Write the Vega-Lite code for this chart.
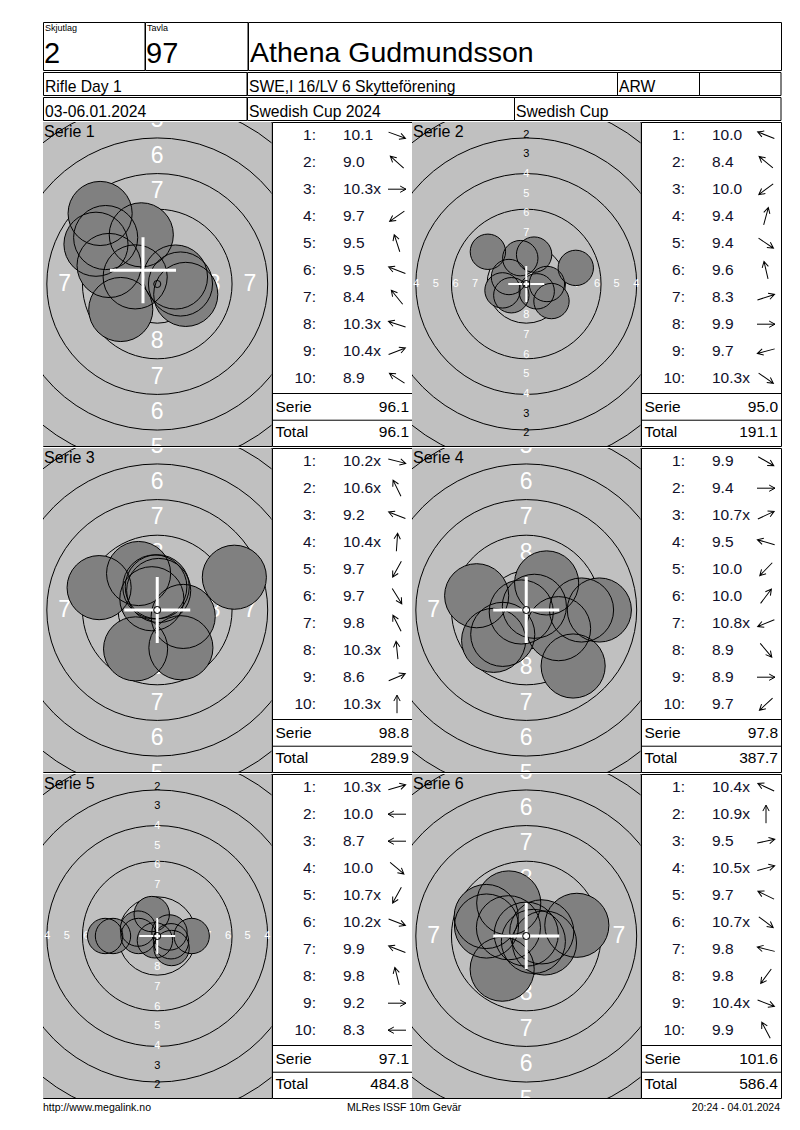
{
"$schema": "https://vega.github.io/schema/vega-lite/v6.json",
"background": "white",
"padding": {"left": 42, "top": 21, "right": 0, "bottom": 0},
"config": {"view": {"stroke": "black", "strokeWidth": 1}, "font": "Liberation Sans", "concat": {"spacing": 0}},
"datasets": {
"shots": [
{"s":1,"n":1,"score":10.1,"x10":false,"dir":-20,"x":2.00,"y":-0.73},
{"s":1,"n":2,"score":9.0,"x10":false,"dir":138,"x":-3.62,"y":3.26},
{"s":1,"n":3,"score":10.3,"x10":true,"dir":0,"x":1.63,"y":0},
{"s":1,"n":4,"score":9.7,"x10":false,"dir":215,"x":-2.56,"y":-1.79},
{"s":1,"n":5,"score":9.5,"x10":false,"dir":108,"x":-1.12,"y":3.45},
{"s":1,"n":6,"score":9.5,"x10":false,"dir":159,"x":-3.38,"y":1.30},
{"s":1,"n":7,"score":8.4,"x10":false,"dir":129,"x":-4.01,"y":4.95},
{"s":1,"n":8,"score":10.3,"x10":true,"dir":162,"x":-1.55,"y":0.50},
{"s":1,"n":9,"score":10.4,"x10":true,"dir":21,"x":1.28,"y":0.49},
{"s":1,"n":10,"score":8.9,"x10":false,"dir":147,"x":-4.30,"y":2.79},
{"s":2,"n":1,"score":10.0,"x10":false,"dir":158,"x":-2.20,"y":0.89},
{"s":2,"n":2,"score":8.4,"x10":false,"dir":140,"x":-4.88,"y":4.10},
{"s":2,"n":3,"score":10.0,"x10":false,"dir":217,"x":-1.90,"y":-1.43},
{"s":2,"n":4,"score":9.4,"x10":false,"dir":75,"x":1.00,"y":3.74},
{"s":2,"n":5,"score":9.4,"x10":false,"dir":-34,"x":3.21,"y":-2.17},
{"s":2,"n":6,"score":9.6,"x10":false,"dir":103,"x":-0.76,"y":3.29},
{"s":2,"n":7,"score":8.3,"x10":false,"dir":18,"x":6.30,"y":2.05},
{"s":2,"n":8,"score":9.9,"x10":false,"dir":0,"x":2.63,"y":0},
{"s":2,"n":9,"score":9.7,"x10":false,"dir":195,"x":-3.02,"y":-0.81},
{"s":2,"n":10,"score":10.3,"x10":true,"dir":-35,"x":1.33,"y":-0.93},
{"s":3,"n":1,"score":10.2,"x10":true,"dir":-14,"x":1.82,"y":-0.45},
{"s":3,"n":2,"score":10.6,"x10":true,"dir":116,"x":-0.38,"y":0.79},
{"s":3,"n":3,"score":9.2,"x10":false,"dir":159,"x":-4.08,"y":1.57},
{"s":3,"n":4,"score":10.4,"x10":true,"dir":86,"x":0.10,"y":1.37},
{"s":3,"n":5,"score":9.7,"x10":false,"dir":241,"x":-1.52,"y":-2.73},
{"s":3,"n":6,"score":9.7,"x10":false,"dir":-58,"x":1.66,"y":-2.65},
{"s":3,"n":7,"score":9.8,"x10":false,"dir":117,"x":-1.31,"y":2.56},
{"s":3,"n":8,"score":10.3,"x10":true,"dir":96,"x":-0.17,"y":1.62},
{"s":3,"n":9,"score":8.6,"x10":false,"dir":23,"x":5.41,"y":2.30},
{"s":3,"n":10,"score":10.3,"x10":true,"dir":90,"x":0,"y":1.63},
{"s":4,"n":1,"score":9.9,"x10":false,"dir":-30,"x":2.27,"y":-1.31},
{"s":4,"n":2,"score":9.4,"x10":false,"dir":0,"x":3.88,"y":0},
{"s":4,"n":3,"score":10.7,"x10":true,"dir":25,"x":0.57,"y":0.26},
{"s":4,"n":4,"score":9.5,"x10":false,"dir":164,"x":-3.48,"y":1.00},
{"s":4,"n":5,"score":10.0,"x10":false,"dir":226,"x":-1.65,"y":-1.71},
{"s":4,"n":6,"score":10.0,"x10":false,"dir":53,"x":1.43,"y":1.90},
{"s":4,"n":7,"score":10.8,"x10":true,"dir":202,"x":-0.35,"y":-0.14},
{"s":4,"n":8,"score":8.9,"x10":false,"dir":-50,"x":3.29,"y":-3.93},
{"s":4,"n":9,"score":8.9,"x10":false,"dir":0,"x":5.13,"y":0},
{"s":4,"n":10,"score":9.7,"x10":false,"dir":223,"x":-2.29,"y":-2.13},
{"s":5,"n":1,"score":10.3,"x10":true,"dir":16,"x":1.56,"y":0.45},
{"s":5,"n":2,"score":10.0,"x10":false,"dir":180,"x":-2.38,"y":0},
{"s":5,"n":3,"score":8.7,"x10":false,"dir":180,"x":-5.63,"y":0},
{"s":5,"n":4,"score":10.0,"x10":false,"dir":-40,"x":1.82,"y":-1.53},
{"s":5,"n":5,"score":10.7,"x10":true,"dir":241,"x":-0.30,"y":-0.55},
{"s":5,"n":6,"score":10.2,"x10":true,"dir":-21,"x":1.75,"y":-0.67},
{"s":5,"n":7,"score":9.9,"x10":false,"dir":159,"x":-2.45,"y":0.94},
{"s":5,"n":8,"score":9.8,"x10":false,"dir":104,"x":-0.70,"y":2.79},
{"s":5,"n":9,"score":9.2,"x10":false,"dir":0,"x":4.38,"y":0},
{"s":5,"n":10,"score":8.3,"x10":false,"dir":180,"x":-6.63,"y":0},
{"s":6,"n":1,"score":10.4,"x10":true,"dir":155,"x":-1.25,"y":0.58},
{"s":6,"n":2,"score":10.9,"x10":true,"dir":90,"x":0,"y":0.13},
{"s":6,"n":3,"score":9.5,"x10":false,"dir":12,"x":3.55,"y":0.75},
{"s":6,"n":4,"score":10.5,"x10":true,"dir":15,"x":1.09,"y":0.29},
{"s":6,"n":5,"score":9.7,"x10":false,"dir":154,"x":-2.81,"y":1.37},
{"s":6,"n":6,"score":10.7,"x10":true,"dir":-37,"x":0.50,"y":-0.38},
{"s":6,"n":7,"score":9.8,"x10":false,"dir":166,"x":-2.79,"y":0.70},
{"s":6,"n":8,"score":9.8,"x10":false,"dir":234,"x":-1.69,"y":-2.33},
{"s":6,"n":9,"score":10.4,"x10":true,"dir":-21,"x":1.28,"y":-0.49},
{"s":6,"n":10,"score":9.9,"x10":false,"dir":118,"x":-1.23,"y":2.32}
],
"rings": [
{"ring":1,"r":22.75,"x":0,"y":0},{"ring":2,"r":20.25,"x":0,"y":0},{"ring":3,"r":17.75,"x":0,"y":0},{"ring":4,"r":15.25,"x":0,"y":0},{"ring":5,"r":12.75,"x":0,"y":0},
{"ring":6,"r":10.25,"x":0,"y":0},{"ring":7,"r":7.75,"x":0,"y":0},{"ring":8,"r":5.25,"x":0,"y":0},{"ring":9,"r":2.75,"x":0,"y":0},{"ring":10,"r":0.25,"x":0,"y":0}
],
"labels": [
{"ring":1,"x":0,"y":21.5},{"ring":1,"x":0,"y":-21.5},{"ring":1,"x":-21.5,"y":0},{"ring":1,"x":21.5,"y":0},
{"ring":2,"x":0,"y":19.0},{"ring":2,"x":0,"y":-19.0},{"ring":2,"x":-19.0,"y":0},{"ring":2,"x":19.0,"y":0},
{"ring":3,"x":0,"y":16.5},{"ring":3,"x":0,"y":-16.5},{"ring":3,"x":-16.5,"y":0},{"ring":3,"x":16.5,"y":0},
{"ring":4,"x":0,"y":14.0},{"ring":4,"x":0,"y":-14.0},{"ring":4,"x":-14.0,"y":0},{"ring":4,"x":14.0,"y":0},
{"ring":5,"x":0,"y":11.5},{"ring":5,"x":0,"y":-11.5},{"ring":5,"x":-11.5,"y":0},{"ring":5,"x":11.5,"y":0},
{"ring":6,"x":0,"y":9.0},{"ring":6,"x":0,"y":-9.0},{"ring":6,"x":-9.0,"y":0},{"ring":6,"x":9.0,"y":0},
{"ring":7,"x":0,"y":6.5},{"ring":7,"x":0,"y":-6.5},{"ring":7,"x":-6.5,"y":0},{"ring":7,"x":6.5,"y":0},
{"ring":8,"x":0,"y":4.0},{"ring":8,"x":0,"y":-4.0},{"ring":8,"x":-4.0,"y":0},{"ring":8,"x":4.0,"y":0}
],
"cross": [
{"s":1,"x":-1.0,"y":0.97},{"s":2,"x":0,"y":0},{"s":3,"x":0,"y":0},{"s":4,"x":0,"y":0},{"s":5,"x":0,"y":0},{"s":6,"x":0,"y":0}
],
"series": [
{"s":1,"serie":96.1,"total":96.1},{"s":2,"serie":95.0,"total":191.1},{"s":3,"serie":98.8,"total":289.9},
{"s":4,"serie":97.8,"total":387.7},{"s":5,"serie":97.1,"total":484.8},{"s":6,"serie":101.6,"total":586.4}
]
},
"spacing": 0,
"vconcat": [
 {"hconcat": [
  {"width": 101.5, "height": 48, "data": {"values": [{"label": "Skjutlag", "value": "2"}]},
   "layer": [
    {"mark": {"type": "text", "align": "left", "baseline": "alphabetic", "fontSize": 9, "dx": 2},
     "encoding": {"x": {"datum": 0, "type": "quantitative", "scale": {"domain": [0, 1]}, "axis": null}, "y": {"datum": 0.8125, "type": "quantitative", "scale": {"domain": [0, 1]}, "axis": null}, "text": {"field": "label"}}},
    {"mark": {"type": "text", "align": "left", "baseline": "alphabetic", "fontSize": 29, "dx": 1},
     "encoding": {"x": {"datum": 0, "type": "quantitative"}, "y": {"datum": 0.14, "type": "quantitative"}, "text": {"field": "value"}}}
   ]},
  {"width": 102.5, "height": 48, "data": {"values": [{"label": "Tavla", "value": "97"}]},
   "layer": [
    {"mark": {"type": "text", "align": "left", "baseline": "alphabetic", "fontSize": 9, "dx": 2},
     "encoding": {"x": {"datum": 0, "type": "quantitative", "scale": {"domain": [0, 1]}, "axis": null}, "y": {"datum": 0.8125, "type": "quantitative", "scale": {"domain": [0, 1]}, "axis": null}, "text": {"field": "label"}}},
    {"mark": {"type": "text", "align": "left", "baseline": "alphabetic", "fontSize": 29, "dx": 1},
     "encoding": {"x": {"datum": 0, "type": "quantitative"}, "y": {"datum": 0.14, "type": "quantitative"}, "text": {"field": "value"}}}
   ]},
  {"width": 533, "height": 48, "data": {"values": [{"name": "Athena Gudmundsson"}]},
   "mark": {"type": "text", "align": "left", "baseline": "alphabetic", "fontSize": 28.5, "dx": 2},
   "encoding": {"x": {"datum": 0, "type": "quantitative", "scale": {"domain": [0, 1]}, "axis": null},
     "y": {"datum": 0.173, "type": "quantitative", "scale": {"domain": [0, 1]}, "axis": null}, "text": {"field": "name"}}}
 ], "spacing": 0, "bounds": "flush"},
 {"hconcat": [
  {"width": 203.5, "height": 23, "data": {"values": [{"t": "Rifle Day 1"}]},
   "mark": {"type": "text", "align": "left", "baseline": "alphabetic", "fontSize": 15.7, "dx": 2},
   "encoding": {"x": {"datum": 0, "type": "quantitative", "scale": {"domain": [0, 1]}, "axis": null},
     "y": {"datum": 0.13, "type": "quantitative", "scale": {"domain": [0, 1]}, "axis": null}, "text": {"field": "t"}}},
  {"width": 370, "height": 23, "data": {"values": [{"t": "SWE,I 16/LV 6 Skytteförening"}]},
   "mark": {"type": "text", "align": "left", "baseline": "alphabetic", "fontSize": 15.7, "dx": 2},
   "encoding": {"x": {"datum": 0, "type": "quantitative", "scale": {"domain": [0, 1]}, "axis": null},
     "y": {"datum": 0.13, "type": "quantitative", "scale": {"domain": [0, 1]}, "axis": null}, "text": {"field": "t"}}},
  {"width": 82, "height": 23, "data": {"values": [{"t": "ARW"}]},
   "mark": {"type": "text", "align": "left", "baseline": "alphabetic", "fontSize": 15.7, "dx": 2},
   "encoding": {"x": {"datum": 0, "type": "quantitative", "scale": {"domain": [0, 1]}, "axis": null},
     "y": {"datum": 0.13, "type": "quantitative", "scale": {"domain": [0, 1]}, "axis": null}, "text": {"field": "t"}}},
  {"width": 81.5, "height": 23, "data": {"values": [{"t": ""}]},
   "mark": {"type": "text", "align": "left", "baseline": "alphabetic", "fontSize": 15.7, "dx": 2},
   "encoding": {"x": {"datum": 0, "type": "quantitative", "scale": {"domain": [0, 1]}, "axis": null},
     "y": {"datum": 0.13, "type": "quantitative", "scale": {"domain": [0, 1]}, "axis": null}, "text": {"field": "t"}}}
 ], "spacing": 0, "bounds": "flush"},
 {"hconcat": [
  {"width": 203.5, "height": 23, "data": {"values": [{"t": "03-06.01.2024"}]},
   "mark": {"type": "text", "align": "left", "baseline": "alphabetic", "fontSize": 15.7, "dx": 2},
   "encoding": {"x": {"datum": 0, "type": "quantitative", "scale": {"domain": [0, 1]}, "axis": null},
     "y": {"datum": 0.12, "type": "quantitative", "scale": {"domain": [0, 1]}, "axis": null}, "text": {"field": "t"}}},
  {"width": 267, "height": 23, "data": {"values": [{"t": "Swedish Cup 2024"}]},
   "mark": {"type": "text", "align": "left", "baseline": "alphabetic", "fontSize": 15.7, "dx": 2},
   "encoding": {"x": {"datum": 0, "type": "quantitative", "scale": {"domain": [0, 1]}, "axis": null},
     "y": {"datum": 0.12, "type": "quantitative", "scale": {"domain": [0, 1]}, "axis": null}, "text": {"field": "t"}}},
  {"width": 266.5, "height": 23, "data": {"values": [{"t": "Swedish Cup"}]},
   "mark": {"type": "text", "align": "left", "baseline": "alphabetic", "fontSize": 15.7, "dx": 2},
   "encoding": {"x": {"datum": 0, "type": "quantitative", "scale": {"domain": [0, 1]}, "axis": null},
     "y": {"datum": 0.12, "type": "quantitative", "scale": {"domain": [0, 1]}, "axis": null}, "text": {"field": "t"}}}
 ], "spacing": 0, "bounds": "flush"},

 {"hconcat": [
  {"width": 228.5, "height": 324,
   "layer": [
    {"data": {"name": "rings"}, "transform": [{"filter": "datum.ring == 4"}], "mark": {"type": "point", "shape": "circle", "filled": true, "color": "#c0c0c0", "opacity": 1, "clip": true},
     "encoding": {"x": {"field": "x", "type": "quantitative", "scale": {"domain": [-8.018, 8.018], "nice": false, "zero": false}, "axis": null}, "y": {"field": "y", "type": "quantitative", "scale": {"domain": [-11.368, 11.368], "nice": false, "zero": false}, "axis": null},
       "size": {"field": "r", "type": "quantitative", "scale": {"type": "pow", "exponent": 2, "domain": [0, 25], "range": [0, 507656]}, "legend": null}}},
    {"data": {"name": "rings"}, "transform": [{"filter": "datum.ring != 4 && datum.ring != 10"}], "mark": {"type": "point", "shape": "circle", "filled": false, "color": "black", "strokeWidth": 1, "opacity": 1, "clip": true},
     "encoding": {"x": {"field": "x", "type": "quantitative"}, "y": {"field": "y", "type": "quantitative"}, "size": {"field": "r", "type": "quantitative", "legend": null}}},
    {"data": {"name": "labels"}, "mark": {"type": "text", "fontSize": 23, "baseline": "middle", "align": "center", "clip": true},
     "encoding": {"x": {"field": "x", "type": "quantitative"}, "y": {"field": "y", "type": "quantitative"}, "text": {"field": "ring", "type": "nominal"}, "color": {"condition": {"test": "datum.ring >= 4", "value": "white"}, "value": "black"}}},
    {"data": {"name": "shots"}, "transform": [{"filter": "datum.s == 1"}], "mark": {"type": "point", "shape": "circle", "filled": true, "color": "#808080", "opacity": 1, "size": 4112, "clip": true},
     "encoding": {"x": {"field": "x", "type": "quantitative"}, "y": {"field": "y", "type": "quantitative"}}},
    {"data": {"name": "shots"}, "transform": [{"filter": "datum.s == 1"}], "mark": {"type": "point", "shape": "circle", "filled": false, "color": "black", "strokeWidth": 1, "opacity": 1, "size": 4112, "clip": true},
     "encoding": {"x": {"field": "x", "type": "quantitative"}, "y": {"field": "y", "type": "quantitative"}}},
    {"data": {"name": "cross"}, "transform": [{"filter": "datum.s == 1"}], "mark": {"type": "point", "shape": "M-1,0L1,0M0,-1L0,1", "filled": false, "color": "white", "strokeWidth": 3, "opacity": 1, "size": 4356, "clip": true},
     "encoding": {"x": {"field": "x", "type": "quantitative"}, "y": {"field": "y", "type": "quantitative"}}},
    {"data": {"name": "rings"}, "transform": [{"filter": "datum.ring == 10"}], "mark": {"type": "point", "shape": "circle", "filled": false, "color": "black", "strokeWidth": 1, "opacity": 1, "clip": true},
     "encoding": {"x": {"field": "x", "type": "quantitative"}, "y": {"field": "y", "type": "quantitative"}, "size": {"field": "r", "type": "quantitative", "legend": null}}},
    {"data": {"name": "series"}, "transform": [{"filter": "datum.s == 1"}], "mark": {"type": "text", "align": "left", "baseline": "alphabetic", "fontSize": 16, "color": "black", "dx": 1, "dy": 15, "text": {"expr": "'Serie ' + datum.s"}},
     "encoding": {"x": {"datum": -8.018, "type": "quantitative"}, "y": {"datum": 11.368, "type": "quantitative"}}}
   ]},
  {"width": 140, "height": 324,
   "resolve": {"scale": {"x": "independent"}},
   "layer": [
    {"data": {"name": "shots"}, "transform": [{"filter": "datum.s == 1"}],
     "mark": {"type": "text", "align": "right", "baseline": "middle", "fontSize": 15.5, "color": "#10102a", "text": {"expr": "datum.n + ':'"}},
     "encoding": {"x": {"datum": "num", "type": "nominal", "scale": {"type": "point", "domain": ["num", "score", "x", "arrow"], "range": [44, 125], "padding": 0}, "axis": null},
       "y": {"field": "n", "type": "quantitative", "scale": {"domain": [0.511, 12.511], "reverse": true, "nice": false, "zero": false}, "axis": null}}},
    {"data": {"name": "shots"}, "transform": [{"filter": "datum.s == 1"}],
     "mark": {"type": "text", "align": "left", "baseline": "middle", "fontSize": 15.5, "color": "#10102a", "text": {"expr": "format(datum.score, '.1f') + (datum.x10 ? 'x' : '')"}},
     "encoding": {"x": {"datum": "score", "type": "nominal", "scale": {"type": "point", "domain": ["num", "score", "x", "arrow"], "range": [44, 125], "padding": 0}, "axis": null},
       "y": {"field": "n", "type": "quantitative"}}},
    {"data": {"name": "shots"}, "transform": [{"filter": "datum.s == 1"}],
     "mark": {"type": "point", "shape": "M-1,0L1,0M0.35,-0.35L1,0L0.35,0.35", "filled": false, "color": "black", "strokeWidth": 1, "opacity": 1, "size": 324},
     "encoding": {"x": {"datum": "arrow", "type": "nominal", "scale": {"type": "point", "domain": ["num", "score", "x", "arrow"], "range": [44, 125], "padding": 0}, "axis": null},
       "y": {"field": "n", "type": "quantitative"},
       "angle": {"field": "dir", "type": "quantitative", "scale": {"domain": [-360, 360], "range": [360, -360]}, "legend": null}}},
    {"data": {"name": "series"}, "transform": [{"filter": "datum.s == 1"}], "mark": {"type": "rule", "color": "black", "strokeWidth": 1},
     "encoding": {"y": {"datum": 10.567, "type": "quantitative"}}},
    {"data": {"name": "series"}, "transform": [{"filter": "datum.s == 1"}], "mark": {"type": "rule", "color": "black", "strokeWidth": 1},
     "encoding": {"y": {"datum": 11.556, "type": "quantitative"}}},
    {"data": {"name": "series"}, "transform": [{"filter": "datum.s == 1"}], "mark": {"type": "text", "align": "left", "baseline": "middle", "fontSize": 15.5, "text": "Serie"},
     "encoding": {"x": {"datum": "label", "type": "nominal", "scale": {"type": "point", "domain": ["label", "value"], "range": [3.5, 137], "padding": 0}, "axis": null}, "y": {"datum": 11.05, "type": "quantitative"}}},
    {"data": {"name": "series"}, "transform": [{"filter": "datum.s == 1"}], "mark": {"type": "text", "align": "right", "baseline": "middle", "fontSize": 15.5},
     "encoding": {"x": {"datum": "value", "type": "nominal", "scale": {"type": "point", "domain": ["label", "value"], "range": [3.5, 137], "padding": 0}, "axis": null}, "y": {"datum": 11.05, "type": "quantitative"}, "text": {"field": "serie", "type": "quantitative", "format": ".1f"}}},
    {"data": {"name": "series"}, "transform": [{"filter": "datum.s == 1"}], "mark": {"type": "text", "align": "left", "baseline": "middle", "fontSize": 15.5, "text": "Total"},
     "encoding": {"x": {"datum": "label", "type": "nominal", "scale": {"type": "point", "domain": ["label", "value"], "range": [3.5, 137], "padding": 0}, "axis": null}, "y": {"datum": 12.0, "type": "quantitative"}}},
    {"data": {"name": "series"}, "transform": [{"filter": "datum.s == 1"}], "mark": {"type": "text", "align": "right", "baseline": "middle", "fontSize": 15.5},
     "encoding": {"x": {"datum": "value", "type": "nominal", "scale": {"type": "point", "domain": ["label", "value"], "range": [3.5, 137], "padding": 0}, "axis": null}, "y": {"datum": 12.0, "type": "quantitative"}, "text": {"field": "total", "type": "quantitative", "format": ".1f"}}}
   ]},
  {"width": 228.5, "height": 324,
   "layer": [
    {"data": {"name": "rings"}, "transform": [{"filter": "datum.ring == 4"}], "mark": {"type": "point", "shape": "circle", "filled": true, "color": "#c0c0c0", "opacity": 1, "clip": true},
     "encoding": {"x": {"field": "x", "type": "quantitative", "scale": {"domain": [-14.535, 14.535], "nice": false, "zero": false}, "axis": null}, "y": {"field": "y", "type": "quantitative", "scale": {"domain": [-20.611, 20.611], "nice": false, "zero": false}, "axis": null},
       "size": {"field": "r", "type": "quantitative", "scale": {"type": "pow", "exponent": 2, "domain": [0, 25], "range": [0, 154449]}, "legend": null}}},
    {"data": {"name": "rings"}, "transform": [{"filter": "datum.ring != 4 && datum.ring != 10"}], "mark": {"type": "point", "shape": "circle", "filled": false, "color": "black", "strokeWidth": 1, "opacity": 1, "clip": true},
     "encoding": {"x": {"field": "x", "type": "quantitative"}, "y": {"field": "y", "type": "quantitative"}, "size": {"field": "r", "type": "quantitative", "legend": null}}},
    {"data": {"name": "labels"}, "mark": {"type": "text", "fontSize": 11, "baseline": "middle", "align": "center", "clip": true},
     "encoding": {"x": {"field": "x", "type": "quantitative"}, "y": {"field": "y", "type": "quantitative"}, "text": {"field": "ring", "type": "nominal"}, "color": {"condition": {"test": "datum.ring >= 4", "value": "white"}, "value": "black"}}},
    {"data": {"name": "shots"}, "transform": [{"filter": "datum.s == 2"}], "mark": {"type": "point", "shape": "circle", "filled": true, "color": "#808080", "opacity": 1, "size": 1251, "clip": true},
     "encoding": {"x": {"field": "x", "type": "quantitative"}, "y": {"field": "y", "type": "quantitative"}}},
    {"data": {"name": "shots"}, "transform": [{"filter": "datum.s == 2"}], "mark": {"type": "point", "shape": "circle", "filled": false, "color": "black", "strokeWidth": 1, "opacity": 1, "size": 1251, "clip": true},
     "encoding": {"x": {"field": "x", "type": "quantitative"}, "y": {"field": "y", "type": "quantitative"}}},
    {"data": {"name": "cross"}, "transform": [{"filter": "datum.s == 2"}], "mark": {"type": "point", "shape": "M-1,0L1,0M0,-1L0,1", "filled": false, "color": "white", "strokeWidth": 2, "opacity": 1, "size": 1296, "clip": true},
     "encoding": {"x": {"field": "x", "type": "quantitative"}, "y": {"field": "y", "type": "quantitative"}}},
    {"data": {"name": "rings"}, "transform": [{"filter": "datum.ring == 10"}], "mark": {"type": "point", "shape": "circle", "filled": false, "color": "black", "strokeWidth": 1, "opacity": 1, "clip": true},
     "encoding": {"x": {"field": "x", "type": "quantitative"}, "y": {"field": "y", "type": "quantitative"}, "size": {"field": "r", "type": "quantitative", "legend": null}}},
    {"data": {"name": "series"}, "transform": [{"filter": "datum.s == 2"}], "mark": {"type": "text", "align": "left", "baseline": "alphabetic", "fontSize": 16, "color": "black", "dx": 1, "dy": 15, "text": {"expr": "'Serie ' + datum.s"}},
     "encoding": {"x": {"datum": -14.535, "type": "quantitative"}, "y": {"datum": 20.611, "type": "quantitative"}}}
   ]},
  {"width": 140, "height": 324,
   "resolve": {"scale": {"x": "independent"}},
   "layer": [
    {"data": {"name": "shots"}, "transform": [{"filter": "datum.s == 2"}],
     "mark": {"type": "text", "align": "right", "baseline": "middle", "fontSize": 15.5, "color": "#10102a", "text": {"expr": "datum.n + ':'"}},
     "encoding": {"x": {"datum": "num", "type": "nominal", "scale": {"type": "point", "domain": ["num", "score", "x", "arrow"], "range": [44, 125], "padding": 0}, "axis": null},
       "y": {"field": "n", "type": "quantitative", "scale": {"domain": [0.511, 12.511], "reverse": true, "nice": false, "zero": false}, "axis": null}}},
    {"data": {"name": "shots"}, "transform": [{"filter": "datum.s == 2"}],
     "mark": {"type": "text", "align": "left", "baseline": "middle", "fontSize": 15.5, "color": "#10102a", "text": {"expr": "format(datum.score, '.1f') + (datum.x10 ? 'x' : '')"}},
     "encoding": {"x": {"datum": "score", "type": "nominal", "scale": {"type": "point", "domain": ["num", "score", "x", "arrow"], "range": [44, 125], "padding": 0}, "axis": null},
       "y": {"field": "n", "type": "quantitative"}}},
    {"data": {"name": "shots"}, "transform": [{"filter": "datum.s == 2"}],
     "mark": {"type": "point", "shape": "M-1,0L1,0M0.35,-0.35L1,0L0.35,0.35", "filled": false, "color": "black", "strokeWidth": 1, "opacity": 1, "size": 324},
     "encoding": {"x": {"datum": "arrow", "type": "nominal", "scale": {"type": "point", "domain": ["num", "score", "x", "arrow"], "range": [44, 125], "padding": 0}, "axis": null},
       "y": {"field": "n", "type": "quantitative"},
       "angle": {"field": "dir", "type": "quantitative", "scale": {"domain": [-360, 360], "range": [360, -360]}, "legend": null}}},
    {"data": {"name": "series"}, "transform": [{"filter": "datum.s == 2"}], "mark": {"type": "rule", "color": "black", "strokeWidth": 1},
     "encoding": {"y": {"datum": 10.567, "type": "quantitative"}}},
    {"data": {"name": "series"}, "transform": [{"filter": "datum.s == 2"}], "mark": {"type": "rule", "color": "black", "strokeWidth": 1},
     "encoding": {"y": {"datum": 11.556, "type": "quantitative"}}},
    {"data": {"name": "series"}, "transform": [{"filter": "datum.s == 2"}], "mark": {"type": "text", "align": "left", "baseline": "middle", "fontSize": 15.5, "text": "Serie"},
     "encoding": {"x": {"datum": "label", "type": "nominal", "scale": {"type": "point", "domain": ["label", "value"], "range": [3.5, 137], "padding": 0}, "axis": null}, "y": {"datum": 11.05, "type": "quantitative"}}},
    {"data": {"name": "series"}, "transform": [{"filter": "datum.s == 2"}], "mark": {"type": "text", "align": "right", "baseline": "middle", "fontSize": 15.5},
     "encoding": {"x": {"datum": "value", "type": "nominal", "scale": {"type": "point", "domain": ["label", "value"], "range": [3.5, 137], "padding": 0}, "axis": null}, "y": {"datum": 11.05, "type": "quantitative"}, "text": {"field": "serie", "type": "quantitative", "format": ".1f"}}},
    {"data": {"name": "series"}, "transform": [{"filter": "datum.s == 2"}], "mark": {"type": "text", "align": "left", "baseline": "middle", "fontSize": 15.5, "text": "Total"},
     "encoding": {"x": {"datum": "label", "type": "nominal", "scale": {"type": "point", "domain": ["label", "value"], "range": [3.5, 137], "padding": 0}, "axis": null}, "y": {"datum": 12.0, "type": "quantitative"}}},
    {"data": {"name": "series"}, "transform": [{"filter": "datum.s == 2"}], "mark": {"type": "text", "align": "right", "baseline": "middle", "fontSize": 15.5},
     "encoding": {"x": {"datum": "value", "type": "nominal", "scale": {"type": "point", "domain": ["label", "value"], "range": [3.5, 137], "padding": 0}, "axis": null}, "y": {"datum": 12.0, "type": "quantitative"}, "text": {"field": "total", "type": "quantitative", "format": ".1f"}}}
   ]}
 ], "spacing": 0, "bounds": "flush"},

 {"hconcat": [
  {"width": 228.5, "height": 324,
   "layer": [
    {"data": {"name": "rings"}, "transform": [{"filter": "datum.ring == 4"}], "mark": {"type": "point", "shape": "circle", "filled": true, "color": "#c0c0c0", "opacity": 1, "clip": true},
     "encoding": {"x": {"field": "x", "type": "quantitative", "scale": {"domain": [-8.018, 8.018], "nice": false, "zero": false}, "axis": null}, "y": {"field": "y", "type": "quantitative", "scale": {"domain": [-11.368, 11.368], "nice": false, "zero": false}, "axis": null},
       "size": {"field": "r", "type": "quantitative", "scale": {"type": "pow", "exponent": 2, "domain": [0, 25], "range": [0, 507656]}, "legend": null}}},
    {"data": {"name": "rings"}, "transform": [{"filter": "datum.ring != 4 && datum.ring != 10"}], "mark": {"type": "point", "shape": "circle", "filled": false, "color": "black", "strokeWidth": 1, "opacity": 1, "clip": true},
     "encoding": {"x": {"field": "x", "type": "quantitative"}, "y": {"field": "y", "type": "quantitative"}, "size": {"field": "r", "type": "quantitative", "legend": null}}},
    {"data": {"name": "labels"}, "mark": {"type": "text", "fontSize": 23, "baseline": "middle", "align": "center", "clip": true},
     "encoding": {"x": {"field": "x", "type": "quantitative"}, "y": {"field": "y", "type": "quantitative"}, "text": {"field": "ring", "type": "nominal"}, "color": {"condition": {"test": "datum.ring >= 4", "value": "white"}, "value": "black"}}},
    {"data": {"name": "shots"}, "transform": [{"filter": "datum.s == 3"}], "mark": {"type": "point", "shape": "circle", "filled": true, "color": "#808080", "opacity": 1, "size": 4112, "clip": true},
     "encoding": {"x": {"field": "x", "type": "quantitative"}, "y": {"field": "y", "type": "quantitative"}}},
    {"data": {"name": "shots"}, "transform": [{"filter": "datum.s == 3"}], "mark": {"type": "point", "shape": "circle", "filled": false, "color": "black", "strokeWidth": 1, "opacity": 1, "size": 4112, "clip": true},
     "encoding": {"x": {"field": "x", "type": "quantitative"}, "y": {"field": "y", "type": "quantitative"}}},
    {"data": {"name": "cross"}, "transform": [{"filter": "datum.s == 3"}], "mark": {"type": "point", "shape": "M-1,0L1,0M0,-1L0,1", "filled": false, "color": "white", "strokeWidth": 3, "opacity": 1, "size": 4356, "clip": true},
     "encoding": {"x": {"field": "x", "type": "quantitative"}, "y": {"field": "y", "type": "quantitative"}}},
    {"data": {"name": "rings"}, "transform": [{"filter": "datum.ring == 10"}], "mark": {"type": "point", "shape": "circle", "filled": false, "color": "black", "strokeWidth": 1, "opacity": 1, "clip": true},
     "encoding": {"x": {"field": "x", "type": "quantitative"}, "y": {"field": "y", "type": "quantitative"}, "size": {"field": "r", "type": "quantitative", "legend": null}}},
    {"data": {"name": "series"}, "transform": [{"filter": "datum.s == 3"}], "mark": {"type": "text", "align": "left", "baseline": "alphabetic", "fontSize": 16, "color": "black", "dx": 1, "dy": 15, "text": {"expr": "'Serie ' + datum.s"}},
     "encoding": {"x": {"datum": -8.018, "type": "quantitative"}, "y": {"datum": 11.368, "type": "quantitative"}}}
   ]},
  {"width": 140, "height": 324,
   "resolve": {"scale": {"x": "independent"}},
   "layer": [
    {"data": {"name": "shots"}, "transform": [{"filter": "datum.s == 3"}],
     "mark": {"type": "text", "align": "right", "baseline": "middle", "fontSize": 15.5, "color": "#10102a", "text": {"expr": "datum.n + ':'"}},
     "encoding": {"x": {"datum": "num", "type": "nominal", "scale": {"type": "point", "domain": ["num", "score", "x", "arrow"], "range": [44, 125], "padding": 0}, "axis": null},
       "y": {"field": "n", "type": "quantitative", "scale": {"domain": [0.511, 12.511], "reverse": true, "nice": false, "zero": false}, "axis": null}}},
    {"data": {"name": "shots"}, "transform": [{"filter": "datum.s == 3"}],
     "mark": {"type": "text", "align": "left", "baseline": "middle", "fontSize": 15.5, "color": "#10102a", "text": {"expr": "format(datum.score, '.1f') + (datum.x10 ? 'x' : '')"}},
     "encoding": {"x": {"datum": "score", "type": "nominal", "scale": {"type": "point", "domain": ["num", "score", "x", "arrow"], "range": [44, 125], "padding": 0}, "axis": null},
       "y": {"field": "n", "type": "quantitative"}}},
    {"data": {"name": "shots"}, "transform": [{"filter": "datum.s == 3"}],
     "mark": {"type": "point", "shape": "M-1,0L1,0M0.35,-0.35L1,0L0.35,0.35", "filled": false, "color": "black", "strokeWidth": 1, "opacity": 1, "size": 324},
     "encoding": {"x": {"datum": "arrow", "type": "nominal", "scale": {"type": "point", "domain": ["num", "score", "x", "arrow"], "range": [44, 125], "padding": 0}, "axis": null},
       "y": {"field": "n", "type": "quantitative"},
       "angle": {"field": "dir", "type": "quantitative", "scale": {"domain": [-360, 360], "range": [360, -360]}, "legend": null}}},
    {"data": {"name": "series"}, "transform": [{"filter": "datum.s == 3"}], "mark": {"type": "rule", "color": "black", "strokeWidth": 1},
     "encoding": {"y": {"datum": 10.567, "type": "quantitative"}}},
    {"data": {"name": "series"}, "transform": [{"filter": "datum.s == 3"}], "mark": {"type": "rule", "color": "black", "strokeWidth": 1},
     "encoding": {"y": {"datum": 11.556, "type": "quantitative"}}},
    {"data": {"name": "series"}, "transform": [{"filter": "datum.s == 3"}], "mark": {"type": "text", "align": "left", "baseline": "middle", "fontSize": 15.5, "text": "Serie"},
     "encoding": {"x": {"datum": "label", "type": "nominal", "scale": {"type": "point", "domain": ["label", "value"], "range": [3.5, 137], "padding": 0}, "axis": null}, "y": {"datum": 11.05, "type": "quantitative"}}},
    {"data": {"name": "series"}, "transform": [{"filter": "datum.s == 3"}], "mark": {"type": "text", "align": "right", "baseline": "middle", "fontSize": 15.5},
     "encoding": {"x": {"datum": "value", "type": "nominal", "scale": {"type": "point", "domain": ["label", "value"], "range": [3.5, 137], "padding": 0}, "axis": null}, "y": {"datum": 11.05, "type": "quantitative"}, "text": {"field": "serie", "type": "quantitative", "format": ".1f"}}},
    {"data": {"name": "series"}, "transform": [{"filter": "datum.s == 3"}], "mark": {"type": "text", "align": "left", "baseline": "middle", "fontSize": 15.5, "text": "Total"},
     "encoding": {"x": {"datum": "label", "type": "nominal", "scale": {"type": "point", "domain": ["label", "value"], "range": [3.5, 137], "padding": 0}, "axis": null}, "y": {"datum": 12.0, "type": "quantitative"}}},
    {"data": {"name": "series"}, "transform": [{"filter": "datum.s == 3"}], "mark": {"type": "text", "align": "right", "baseline": "middle", "fontSize": 15.5},
     "encoding": {"x": {"datum": "value", "type": "nominal", "scale": {"type": "point", "domain": ["label", "value"], "range": [3.5, 137], "padding": 0}, "axis": null}, "y": {"datum": 12.0, "type": "quantitative"}, "text": {"field": "total", "type": "quantitative", "format": ".1f"}}}
   ]},
  {"width": 228.5, "height": 324,
   "layer": [
    {"data": {"name": "rings"}, "transform": [{"filter": "datum.ring == 4"}], "mark": {"type": "point", "shape": "circle", "filled": true, "color": "#c0c0c0", "opacity": 1, "clip": true},
     "encoding": {"x": {"field": "x", "type": "quantitative", "scale": {"domain": [-8.018, 8.018], "nice": false, "zero": false}, "axis": null}, "y": {"field": "y", "type": "quantitative", "scale": {"domain": [-11.368, 11.368], "nice": false, "zero": false}, "axis": null},
       "size": {"field": "r", "type": "quantitative", "scale": {"type": "pow", "exponent": 2, "domain": [0, 25], "range": [0, 507656]}, "legend": null}}},
    {"data": {"name": "rings"}, "transform": [{"filter": "datum.ring != 4 && datum.ring != 10"}], "mark": {"type": "point", "shape": "circle", "filled": false, "color": "black", "strokeWidth": 1, "opacity": 1, "clip": true},
     "encoding": {"x": {"field": "x", "type": "quantitative"}, "y": {"field": "y", "type": "quantitative"}, "size": {"field": "r", "type": "quantitative", "legend": null}}},
    {"data": {"name": "labels"}, "mark": {"type": "text", "fontSize": 23, "baseline": "middle", "align": "center", "clip": true},
     "encoding": {"x": {"field": "x", "type": "quantitative"}, "y": {"field": "y", "type": "quantitative"}, "text": {"field": "ring", "type": "nominal"}, "color": {"condition": {"test": "datum.ring >= 4", "value": "white"}, "value": "black"}}},
    {"data": {"name": "shots"}, "transform": [{"filter": "datum.s == 4"}], "mark": {"type": "point", "shape": "circle", "filled": true, "color": "#808080", "opacity": 1, "size": 4112, "clip": true},
     "encoding": {"x": {"field": "x", "type": "quantitative"}, "y": {"field": "y", "type": "quantitative"}}},
    {"data": {"name": "shots"}, "transform": [{"filter": "datum.s == 4"}], "mark": {"type": "point", "shape": "circle", "filled": false, "color": "black", "strokeWidth": 1, "opacity": 1, "size": 4112, "clip": true},
     "encoding": {"x": {"field": "x", "type": "quantitative"}, "y": {"field": "y", "type": "quantitative"}}},
    {"data": {"name": "cross"}, "transform": [{"filter": "datum.s == 4"}], "mark": {"type": "point", "shape": "M-1,0L1,0M0,-1L0,1", "filled": false, "color": "white", "strokeWidth": 3, "opacity": 1, "size": 4356, "clip": true},
     "encoding": {"x": {"field": "x", "type": "quantitative"}, "y": {"field": "y", "type": "quantitative"}}},
    {"data": {"name": "rings"}, "transform": [{"filter": "datum.ring == 10"}], "mark": {"type": "point", "shape": "circle", "filled": false, "color": "black", "strokeWidth": 1, "opacity": 1, "clip": true},
     "encoding": {"x": {"field": "x", "type": "quantitative"}, "y": {"field": "y", "type": "quantitative"}, "size": {"field": "r", "type": "quantitative", "legend": null}}},
    {"data": {"name": "series"}, "transform": [{"filter": "datum.s == 4"}], "mark": {"type": "text", "align": "left", "baseline": "alphabetic", "fontSize": 16, "color": "black", "dx": 1, "dy": 15, "text": {"expr": "'Serie ' + datum.s"}},
     "encoding": {"x": {"datum": -8.018, "type": "quantitative"}, "y": {"datum": 11.368, "type": "quantitative"}}}
   ]},
  {"width": 140, "height": 324,
   "resolve": {"scale": {"x": "independent"}},
   "layer": [
    {"data": {"name": "shots"}, "transform": [{"filter": "datum.s == 4"}],
     "mark": {"type": "text", "align": "right", "baseline": "middle", "fontSize": 15.5, "color": "#10102a", "text": {"expr": "datum.n + ':'"}},
     "encoding": {"x": {"datum": "num", "type": "nominal", "scale": {"type": "point", "domain": ["num", "score", "x", "arrow"], "range": [44, 125], "padding": 0}, "axis": null},
       "y": {"field": "n", "type": "quantitative", "scale": {"domain": [0.511, 12.511], "reverse": true, "nice": false, "zero": false}, "axis": null}}},
    {"data": {"name": "shots"}, "transform": [{"filter": "datum.s == 4"}],
     "mark": {"type": "text", "align": "left", "baseline": "middle", "fontSize": 15.5, "color": "#10102a", "text": {"expr": "format(datum.score, '.1f') + (datum.x10 ? 'x' : '')"}},
     "encoding": {"x": {"datum": "score", "type": "nominal", "scale": {"type": "point", "domain": ["num", "score", "x", "arrow"], "range": [44, 125], "padding": 0}, "axis": null},
       "y": {"field": "n", "type": "quantitative"}}},
    {"data": {"name": "shots"}, "transform": [{"filter": "datum.s == 4"}],
     "mark": {"type": "point", "shape": "M-1,0L1,0M0.35,-0.35L1,0L0.35,0.35", "filled": false, "color": "black", "strokeWidth": 1, "opacity": 1, "size": 324},
     "encoding": {"x": {"datum": "arrow", "type": "nominal", "scale": {"type": "point", "domain": ["num", "score", "x", "arrow"], "range": [44, 125], "padding": 0}, "axis": null},
       "y": {"field": "n", "type": "quantitative"},
       "angle": {"field": "dir", "type": "quantitative", "scale": {"domain": [-360, 360], "range": [360, -360]}, "legend": null}}},
    {"data": {"name": "series"}, "transform": [{"filter": "datum.s == 4"}], "mark": {"type": "rule", "color": "black", "strokeWidth": 1},
     "encoding": {"y": {"datum": 10.567, "type": "quantitative"}}},
    {"data": {"name": "series"}, "transform": [{"filter": "datum.s == 4"}], "mark": {"type": "rule", "color": "black", "strokeWidth": 1},
     "encoding": {"y": {"datum": 11.556, "type": "quantitative"}}},
    {"data": {"name": "series"}, "transform": [{"filter": "datum.s == 4"}], "mark": {"type": "text", "align": "left", "baseline": "middle", "fontSize": 15.5, "text": "Serie"},
     "encoding": {"x": {"datum": "label", "type": "nominal", "scale": {"type": "point", "domain": ["label", "value"], "range": [3.5, 137], "padding": 0}, "axis": null}, "y": {"datum": 11.05, "type": "quantitative"}}},
    {"data": {"name": "series"}, "transform": [{"filter": "datum.s == 4"}], "mark": {"type": "text", "align": "right", "baseline": "middle", "fontSize": 15.5},
     "encoding": {"x": {"datum": "value", "type": "nominal", "scale": {"type": "point", "domain": ["label", "value"], "range": [3.5, 137], "padding": 0}, "axis": null}, "y": {"datum": 11.05, "type": "quantitative"}, "text": {"field": "serie", "type": "quantitative", "format": ".1f"}}},
    {"data": {"name": "series"}, "transform": [{"filter": "datum.s == 4"}], "mark": {"type": "text", "align": "left", "baseline": "middle", "fontSize": 15.5, "text": "Total"},
     "encoding": {"x": {"datum": "label", "type": "nominal", "scale": {"type": "point", "domain": ["label", "value"], "range": [3.5, 137], "padding": 0}, "axis": null}, "y": {"datum": 12.0, "type": "quantitative"}}},
    {"data": {"name": "series"}, "transform": [{"filter": "datum.s == 4"}], "mark": {"type": "text", "align": "right", "baseline": "middle", "fontSize": 15.5},
     "encoding": {"x": {"datum": "value", "type": "nominal", "scale": {"type": "point", "domain": ["label", "value"], "range": [3.5, 137], "padding": 0}, "axis": null}, "y": {"datum": 12.0, "type": "quantitative"}, "text": {"field": "total", "type": "quantitative", "format": ".1f"}}}
   ]}
 ], "spacing": 0, "bounds": "flush"},

 {"hconcat": [
  {"width": 228.5, "height": 324,
   "layer": [
    {"data": {"name": "rings"}, "transform": [{"filter": "datum.ring == 4"}], "mark": {"type": "point", "shape": "circle", "filled": true, "color": "#c0c0c0", "opacity": 1, "clip": true},
     "encoding": {"x": {"field": "x", "type": "quantitative", "scale": {"domain": [-14.535, 14.535], "nice": false, "zero": false}, "axis": null}, "y": {"field": "y", "type": "quantitative", "scale": {"domain": [-20.611, 20.611], "nice": false, "zero": false}, "axis": null},
       "size": {"field": "r", "type": "quantitative", "scale": {"type": "pow", "exponent": 2, "domain": [0, 25], "range": [0, 154449]}, "legend": null}}},
    {"data": {"name": "rings"}, "transform": [{"filter": "datum.ring != 4 && datum.ring != 10"}], "mark": {"type": "point", "shape": "circle", "filled": false, "color": "black", "strokeWidth": 1, "opacity": 1, "clip": true},
     "encoding": {"x": {"field": "x", "type": "quantitative"}, "y": {"field": "y", "type": "quantitative"}, "size": {"field": "r", "type": "quantitative", "legend": null}}},
    {"data": {"name": "labels"}, "mark": {"type": "text", "fontSize": 11, "baseline": "middle", "align": "center", "clip": true},
     "encoding": {"x": {"field": "x", "type": "quantitative"}, "y": {"field": "y", "type": "quantitative"}, "text": {"field": "ring", "type": "nominal"}, "color": {"condition": {"test": "datum.ring >= 4", "value": "white"}, "value": "black"}}},
    {"data": {"name": "shots"}, "transform": [{"filter": "datum.s == 5"}], "mark": {"type": "point", "shape": "circle", "filled": true, "color": "#808080", "opacity": 1, "size": 1251, "clip": true},
     "encoding": {"x": {"field": "x", "type": "quantitative"}, "y": {"field": "y", "type": "quantitative"}}},
    {"data": {"name": "shots"}, "transform": [{"filter": "datum.s == 5"}], "mark": {"type": "point", "shape": "circle", "filled": false, "color": "black", "strokeWidth": 1, "opacity": 1, "size": 1251, "clip": true},
     "encoding": {"x": {"field": "x", "type": "quantitative"}, "y": {"field": "y", "type": "quantitative"}}},
    {"data": {"name": "cross"}, "transform": [{"filter": "datum.s == 5"}], "mark": {"type": "point", "shape": "M-1,0L1,0M0,-1L0,1", "filled": false, "color": "white", "strokeWidth": 2, "opacity": 1, "size": 1296, "clip": true},
     "encoding": {"x": {"field": "x", "type": "quantitative"}, "y": {"field": "y", "type": "quantitative"}}},
    {"data": {"name": "rings"}, "transform": [{"filter": "datum.ring == 10"}], "mark": {"type": "point", "shape": "circle", "filled": false, "color": "black", "strokeWidth": 1, "opacity": 1, "clip": true},
     "encoding": {"x": {"field": "x", "type": "quantitative"}, "y": {"field": "y", "type": "quantitative"}, "size": {"field": "r", "type": "quantitative", "legend": null}}},
    {"data": {"name": "series"}, "transform": [{"filter": "datum.s == 5"}], "mark": {"type": "text", "align": "left", "baseline": "alphabetic", "fontSize": 16, "color": "black", "dx": 1, "dy": 15, "text": {"expr": "'Serie ' + datum.s"}},
     "encoding": {"x": {"datum": -14.535, "type": "quantitative"}, "y": {"datum": 20.611, "type": "quantitative"}}}
   ]},
  {"width": 140, "height": 324,
   "resolve": {"scale": {"x": "independent"}},
   "layer": [
    {"data": {"name": "shots"}, "transform": [{"filter": "datum.s == 5"}],
     "mark": {"type": "text", "align": "right", "baseline": "middle", "fontSize": 15.5, "color": "#10102a", "text": {"expr": "datum.n + ':'"}},
     "encoding": {"x": {"datum": "num", "type": "nominal", "scale": {"type": "point", "domain": ["num", "score", "x", "arrow"], "range": [44, 125], "padding": 0}, "axis": null},
       "y": {"field": "n", "type": "quantitative", "scale": {"domain": [0.511, 12.511], "reverse": true, "nice": false, "zero": false}, "axis": null}}},
    {"data": {"name": "shots"}, "transform": [{"filter": "datum.s == 5"}],
     "mark": {"type": "text", "align": "left", "baseline": "middle", "fontSize": 15.5, "color": "#10102a", "text": {"expr": "format(datum.score, '.1f') + (datum.x10 ? 'x' : '')"}},
     "encoding": {"x": {"datum": "score", "type": "nominal", "scale": {"type": "point", "domain": ["num", "score", "x", "arrow"], "range": [44, 125], "padding": 0}, "axis": null},
       "y": {"field": "n", "type": "quantitative"}}},
    {"data": {"name": "shots"}, "transform": [{"filter": "datum.s == 5"}],
     "mark": {"type": "point", "shape": "M-1,0L1,0M0.35,-0.35L1,0L0.35,0.35", "filled": false, "color": "black", "strokeWidth": 1, "opacity": 1, "size": 324},
     "encoding": {"x": {"datum": "arrow", "type": "nominal", "scale": {"type": "point", "domain": ["num", "score", "x", "arrow"], "range": [44, 125], "padding": 0}, "axis": null},
       "y": {"field": "n", "type": "quantitative"},
       "angle": {"field": "dir", "type": "quantitative", "scale": {"domain": [-360, 360], "range": [360, -360]}, "legend": null}}},
    {"data": {"name": "series"}, "transform": [{"filter": "datum.s == 5"}], "mark": {"type": "rule", "color": "black", "strokeWidth": 1},
     "encoding": {"y": {"datum": 10.567, "type": "quantitative"}}},
    {"data": {"name": "series"}, "transform": [{"filter": "datum.s == 5"}], "mark": {"type": "rule", "color": "black", "strokeWidth": 1},
     "encoding": {"y": {"datum": 11.556, "type": "quantitative"}}},
    {"data": {"name": "series"}, "transform": [{"filter": "datum.s == 5"}], "mark": {"type": "text", "align": "left", "baseline": "middle", "fontSize": 15.5, "text": "Serie"},
     "encoding": {"x": {"datum": "label", "type": "nominal", "scale": {"type": "point", "domain": ["label", "value"], "range": [3.5, 137], "padding": 0}, "axis": null}, "y": {"datum": 11.05, "type": "quantitative"}}},
    {"data": {"name": "series"}, "transform": [{"filter": "datum.s == 5"}], "mark": {"type": "text", "align": "right", "baseline": "middle", "fontSize": 15.5},
     "encoding": {"x": {"datum": "value", "type": "nominal", "scale": {"type": "point", "domain": ["label", "value"], "range": [3.5, 137], "padding": 0}, "axis": null}, "y": {"datum": 11.05, "type": "quantitative"}, "text": {"field": "serie", "type": "quantitative", "format": ".1f"}}},
    {"data": {"name": "series"}, "transform": [{"filter": "datum.s == 5"}], "mark": {"type": "text", "align": "left", "baseline": "middle", "fontSize": 15.5, "text": "Total"},
     "encoding": {"x": {"datum": "label", "type": "nominal", "scale": {"type": "point", "domain": ["label", "value"], "range": [3.5, 137], "padding": 0}, "axis": null}, "y": {"datum": 12.0, "type": "quantitative"}}},
    {"data": {"name": "series"}, "transform": [{"filter": "datum.s == 5"}], "mark": {"type": "text", "align": "right", "baseline": "middle", "fontSize": 15.5},
     "encoding": {"x": {"datum": "value", "type": "nominal", "scale": {"type": "point", "domain": ["label", "value"], "range": [3.5, 137], "padding": 0}, "axis": null}, "y": {"datum": 12.0, "type": "quantitative"}, "text": {"field": "total", "type": "quantitative", "format": ".1f"}}}
   ]},
  {"width": 228.5, "height": 324,
   "layer": [
    {"data": {"name": "rings"}, "transform": [{"filter": "datum.ring == 4"}], "mark": {"type": "point", "shape": "circle", "filled": true, "color": "#c0c0c0", "opacity": 1, "clip": true},
     "encoding": {"x": {"field": "x", "type": "quantitative", "scale": {"domain": [-8.018, 8.018], "nice": false, "zero": false}, "axis": null}, "y": {"field": "y", "type": "quantitative", "scale": {"domain": [-11.368, 11.368], "nice": false, "zero": false}, "axis": null},
       "size": {"field": "r", "type": "quantitative", "scale": {"type": "pow", "exponent": 2, "domain": [0, 25], "range": [0, 507656]}, "legend": null}}},
    {"data": {"name": "rings"}, "transform": [{"filter": "datum.ring != 4 && datum.ring != 10"}], "mark": {"type": "point", "shape": "circle", "filled": false, "color": "black", "strokeWidth": 1, "opacity": 1, "clip": true},
     "encoding": {"x": {"field": "x", "type": "quantitative"}, "y": {"field": "y", "type": "quantitative"}, "size": {"field": "r", "type": "quantitative", "legend": null}}},
    {"data": {"name": "labels"}, "mark": {"type": "text", "fontSize": 23, "baseline": "middle", "align": "center", "clip": true},
     "encoding": {"x": {"field": "x", "type": "quantitative"}, "y": {"field": "y", "type": "quantitative"}, "text": {"field": "ring", "type": "nominal"}, "color": {"condition": {"test": "datum.ring >= 4", "value": "white"}, "value": "black"}}},
    {"data": {"name": "shots"}, "transform": [{"filter": "datum.s == 6"}], "mark": {"type": "point", "shape": "circle", "filled": true, "color": "#808080", "opacity": 1, "size": 4112, "clip": true},
     "encoding": {"x": {"field": "x", "type": "quantitative"}, "y": {"field": "y", "type": "quantitative"}}},
    {"data": {"name": "shots"}, "transform": [{"filter": "datum.s == 6"}], "mark": {"type": "point", "shape": "circle", "filled": false, "color": "black", "strokeWidth": 1, "opacity": 1, "size": 4112, "clip": true},
     "encoding": {"x": {"field": "x", "type": "quantitative"}, "y": {"field": "y", "type": "quantitative"}}},
    {"data": {"name": "cross"}, "transform": [{"filter": "datum.s == 6"}], "mark": {"type": "point", "shape": "M-1,0L1,0M0,-1L0,1", "filled": false, "color": "white", "strokeWidth": 3, "opacity": 1, "size": 4356, "clip": true},
     "encoding": {"x": {"field": "x", "type": "quantitative"}, "y": {"field": "y", "type": "quantitative"}}},
    {"data": {"name": "rings"}, "transform": [{"filter": "datum.ring == 10"}], "mark": {"type": "point", "shape": "circle", "filled": false, "color": "black", "strokeWidth": 1, "opacity": 1, "clip": true},
     "encoding": {"x": {"field": "x", "type": "quantitative"}, "y": {"field": "y", "type": "quantitative"}, "size": {"field": "r", "type": "quantitative", "legend": null}}},
    {"data": {"name": "series"}, "transform": [{"filter": "datum.s == 6"}], "mark": {"type": "text", "align": "left", "baseline": "alphabetic", "fontSize": 16, "color": "black", "dx": 1, "dy": 15, "text": {"expr": "'Serie ' + datum.s"}},
     "encoding": {"x": {"datum": -8.018, "type": "quantitative"}, "y": {"datum": 11.368, "type": "quantitative"}}}
   ]},
  {"width": 140, "height": 324,
   "resolve": {"scale": {"x": "independent"}},
   "layer": [
    {"data": {"name": "shots"}, "transform": [{"filter": "datum.s == 6"}],
     "mark": {"type": "text", "align": "right", "baseline": "middle", "fontSize": 15.5, "color": "#10102a", "text": {"expr": "datum.n + ':'"}},
     "encoding": {"x": {"datum": "num", "type": "nominal", "scale": {"type": "point", "domain": ["num", "score", "x", "arrow"], "range": [44, 125], "padding": 0}, "axis": null},
       "y": {"field": "n", "type": "quantitative", "scale": {"domain": [0.511, 12.511], "reverse": true, "nice": false, "zero": false}, "axis": null}}},
    {"data": {"name": "shots"}, "transform": [{"filter": "datum.s == 6"}],
     "mark": {"type": "text", "align": "left", "baseline": "middle", "fontSize": 15.5, "color": "#10102a", "text": {"expr": "format(datum.score, '.1f') + (datum.x10 ? 'x' : '')"}},
     "encoding": {"x": {"datum": "score", "type": "nominal", "scale": {"type": "point", "domain": ["num", "score", "x", "arrow"], "range": [44, 125], "padding": 0}, "axis": null},
       "y": {"field": "n", "type": "quantitative"}}},
    {"data": {"name": "shots"}, "transform": [{"filter": "datum.s == 6"}],
     "mark": {"type": "point", "shape": "M-1,0L1,0M0.35,-0.35L1,0L0.35,0.35", "filled": false, "color": "black", "strokeWidth": 1, "opacity": 1, "size": 324},
     "encoding": {"x": {"datum": "arrow", "type": "nominal", "scale": {"type": "point", "domain": ["num", "score", "x", "arrow"], "range": [44, 125], "padding": 0}, "axis": null},
       "y": {"field": "n", "type": "quantitative"},
       "angle": {"field": "dir", "type": "quantitative", "scale": {"domain": [-360, 360], "range": [360, -360]}, "legend": null}}},
    {"data": {"name": "series"}, "transform": [{"filter": "datum.s == 6"}], "mark": {"type": "rule", "color": "black", "strokeWidth": 1},
     "encoding": {"y": {"datum": 10.567, "type": "quantitative"}}},
    {"data": {"name": "series"}, "transform": [{"filter": "datum.s == 6"}], "mark": {"type": "rule", "color": "black", "strokeWidth": 1},
     "encoding": {"y": {"datum": 11.556, "type": "quantitative"}}},
    {"data": {"name": "series"}, "transform": [{"filter": "datum.s == 6"}], "mark": {"type": "text", "align": "left", "baseline": "middle", "fontSize": 15.5, "text": "Serie"},
     "encoding": {"x": {"datum": "label", "type": "nominal", "scale": {"type": "point", "domain": ["label", "value"], "range": [3.5, 137], "padding": 0}, "axis": null}, "y": {"datum": 11.05, "type": "quantitative"}}},
    {"data": {"name": "series"}, "transform": [{"filter": "datum.s == 6"}], "mark": {"type": "text", "align": "right", "baseline": "middle", "fontSize": 15.5},
     "encoding": {"x": {"datum": "value", "type": "nominal", "scale": {"type": "point", "domain": ["label", "value"], "range": [3.5, 137], "padding": 0}, "axis": null}, "y": {"datum": 11.05, "type": "quantitative"}, "text": {"field": "serie", "type": "quantitative", "format": ".1f"}}},
    {"data": {"name": "series"}, "transform": [{"filter": "datum.s == 6"}], "mark": {"type": "text", "align": "left", "baseline": "middle", "fontSize": 15.5, "text": "Total"},
     "encoding": {"x": {"datum": "label", "type": "nominal", "scale": {"type": "point", "domain": ["label", "value"], "range": [3.5, 137], "padding": 0}, "axis": null}, "y": {"datum": 12.0, "type": "quantitative"}}},
    {"data": {"name": "series"}, "transform": [{"filter": "datum.s == 6"}], "mark": {"type": "text", "align": "right", "baseline": "middle", "fontSize": 15.5},
     "encoding": {"x": {"datum": "value", "type": "nominal", "scale": {"type": "point", "domain": ["label", "value"], "range": [3.5, 137], "padding": 0}, "axis": null}, "y": {"datum": 12.0, "type": "quantitative"}, "text": {"field": "total", "type": "quantitative", "format": ".1f"}}}
   ]}
 ], "spacing": 0, "bounds": "flush"},

 {"width": 737, "height": 17, "view": {"stroke": null},
  "data": {"values": [{"site": "http://www.megalink.no", "program": "MLRes ISSF 10m Gevär", "stamp": "20:24 - 04.01.2024"}]},
  "layer": [
   {"mark": {"type": "text", "align": "left", "baseline": "middle", "fontSize": 10.5},
    "encoding": {"x": {"datum": 0, "type": "quantitative", "scale": {"domain": [0, 1]}, "axis": null}, "text": {"field": "site"}}},
   {"mark": {"type": "text", "align": "center", "baseline": "middle", "fontSize": 10.5},
    "encoding": {"x": {"datum": 0.49, "type": "quantitative"}, "text": {"field": "program"}}},
   {"mark": {"type": "text", "align": "right", "baseline": "middle", "fontSize": 10.5},
    "encoding": {"x": {"datum": 1, "type": "quantitative"}, "text": {"field": "stamp"}}}
  ]}
]
}
